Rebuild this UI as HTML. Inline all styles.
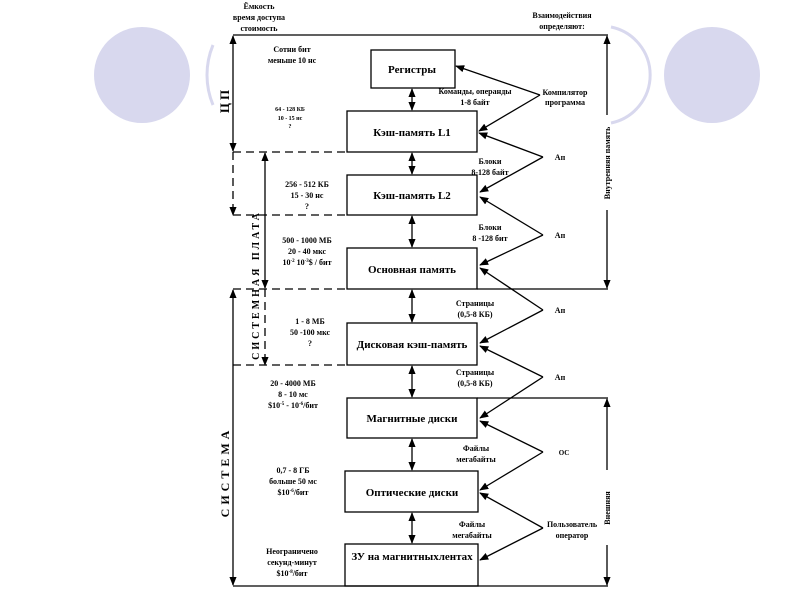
<!DOCTYPE html>
<html><head><meta charset="utf-8"><style>
body{margin:0;background:#fff}
svg{display:block}
text{font-family:"Liberation Serif","Noto Serif CJK SC",serif;font-weight:bold;fill:#000}
</style></head><body>
<svg width="800" height="600" viewBox="0 0 800 600" xmlns="http://www.w3.org/2000/svg">
<defs>
<marker id="a" viewBox="0 0 10 10" refX="9" refY="5" markerWidth="7" markerHeight="7" orient="auto-start-reverse"><path d="M0,1 L10,5 L0,9 z" fill="#000"/></marker>
</defs>
<circle cx="142" cy="75" r="48" fill="#d8d8ee"/>
<circle cx="712" cy="75" r="48" fill="#d8d8ee"/>
<path d="M611,27 A49,49 0 0 1 611,123" fill="none" stroke="#d8d8ee" stroke-width="3"/>
<path d="M213,45 A78,78 0 0 0 213,105" fill="none" stroke="#d8d8ee" stroke-width="3"/>

<g stroke="#000" stroke-width="1.3" fill="none">
<line x1="233" y1="35" x2="608" y2="35"/>
<line x1="477" y1="289" x2="608" y2="289"/>
<line x1="477" y1="398" x2="608" y2="398"/>
<line x1="233" y1="586" x2="608" y2="586"/>
<g stroke-dasharray="8,5">
<line x1="233" y1="152" x2="347" y2="152"/>
<line x1="233" y1="215" x2="347" y2="215"/>
<line x1="233" y1="289" x2="347" y2="289"/>
<line x1="233" y1="365" x2="347" y2="365"/>
<line x1="233" y1="152" x2="233" y2="215" marker-end="url(#a)"/>
<line x1="265" y1="289" x2="265" y2="365" marker-end="url(#a)"/>
</g>
<line x1="233" y1="36" x2="233" y2="151" marker-start="url(#a)" marker-end="url(#a)"/>
<line x1="265" y1="153" x2="265" y2="288" marker-start="url(#a)" marker-end="url(#a)"/>
<line x1="233" y1="290" x2="233" y2="585" marker-start="url(#a)" marker-end="url(#a)"/>
<line x1="607" y1="36" x2="607" y2="115" marker-start="url(#a)"/>
<line x1="607" y1="210" x2="607" y2="288" marker-end="url(#a)"/>
<line x1="607" y1="399" x2="607" y2="470" marker-start="url(#a)"/>
<line x1="607" y1="545" x2="607" y2="585" marker-end="url(#a)"/>

<rect x="371" y="50" width="84" height="38"/>
<rect x="347" y="111" width="130" height="41"/>
<rect x="347" y="175" width="130" height="40"/>
<rect x="347" y="248" width="130" height="41"/>
<rect x="347" y="323" width="130" height="42"/>
<rect x="347" y="398" width="130" height="40"/>
<rect x="345" y="471" width="133" height="41"/>
<rect x="345" y="544" width="133" height="42"/>

<g marker-start="url(#a)" marker-end="url(#a)">
<line x1="412" y1="89" x2="412" y2="110"/>
<line x1="412" y1="153" x2="412" y2="174"/>
<line x1="412" y1="216" x2="412" y2="247"/>
<line x1="412" y1="290" x2="412" y2="322"/>
<line x1="412" y1="366" x2="412" y2="397"/>
<line x1="412" y1="439" x2="412" y2="470"/>
<line x1="412" y1="513" x2="412" y2="543"/>
</g>
<g marker-end="url(#a)">
<line x1="540" y1="95" x2="456" y2="66"/>
<line x1="540" y1="95" x2="479" y2="131"/>
<line x1="543" y1="157" x2="479" y2="133"/>
<line x1="543" y1="157" x2="480" y2="192"/>
<line x1="543" y1="235" x2="480" y2="197"/>
<line x1="543" y1="235" x2="480" y2="265"/>
<line x1="543" y1="310" x2="480" y2="268"/>
<line x1="543" y1="310" x2="480" y2="343"/>
<line x1="543" y1="377" x2="480" y2="346"/>
<line x1="543" y1="377" x2="480" y2="418"/>
<line x1="543" y1="452" x2="480" y2="421"/>
<line x1="543" y1="452" x2="480" y2="490"/>
<line x1="543" y1="528" x2="480" y2="493"/>
<line x1="543" y1="528" x2="480" y2="560"/>
</g>
</g>

<g font-size="11" text-anchor="middle">
<text x="412" y="73">Регистры</text>
<text x="412" y="136">Кэш-память L1</text>
<text x="412" y="199">Кэш-память L2</text>
<text x="412" y="273">Основная память</text>
<text x="412" y="348">Дисковая кэш-память</text>
<text x="412" y="422">Магнитные диски</text>
<text x="412" y="496">Оптические диски</text>
<text x="412" y="560">ЗУ на магнитныхлентах</text>
</g>
<g font-size="8" text-anchor="middle">
<text x="259" y="9">Ёмкость</text>
<text x="259" y="20">время доступа</text>
<text x="259" y="31">стоимость</text>
<text x="562" y="18">Взаимодействия</text>
<text x="562" y="29">определяют:</text>
<text x="292" y="52">Сотни бит</text>
<text x="292" y="63">меньше 10 нс</text>
<text x="290" y="111" font-size="6">64 - 128 КБ</text>
<text x="290" y="120" font-size="6">10 - 15 нс</text>
<text x="290" y="128" font-size="6">?</text>
<text x="307" y="187">256 - 512 КБ</text>
<text x="307" y="198">15 - 30 нс</text>
<text x="307" y="209">?</text>
<text x="307" y="243">500 - 1000 МБ</text>
<text x="307" y="254">20 - 40 мкс</text>
<text x="307" y="265">10<tspan font-size="5" dy="-3">-2</tspan><tspan dy="3"> 10</tspan><tspan font-size="5" dy="-3">-3</tspan><tspan dy="3">$ / бит</tspan></text>
<text x="310" y="324">1 - 8 МБ</text>
<text x="310" y="335">50 -100 мкс</text>
<text x="310" y="346">?</text>
<text x="293" y="386">20 - 4000 МБ</text>
<text x="293" y="397">8 - 10 мс</text>
<text x="293" y="408">$10<tspan font-size="5" dy="-3">-5</tspan><tspan dy="3"> - 10</tspan><tspan font-size="5" dy="-3">-6</tspan><tspan dy="3">/бит</tspan></text>
<text x="293" y="473">0,7 - 8 ГБ</text>
<text x="293" y="484">больше 50 мс</text>
<text x="293" y="495">$10<tspan font-size="5" dy="-3">-6</tspan><tspan dy="3">/бит</tspan></text>
<text x="292" y="554">Неограничено</text>
<text x="292" y="565">секунд-минут</text>
<text x="292" y="576">$10<tspan font-size="5" dy="-3">-8</tspan><tspan dy="3">/бит</tspan></text>
<text x="475" y="94">Команды, операнды</text>
<text x="475" y="105">1-8 байт</text>
<text x="565" y="95">Компилятор</text>
<text x="565" y="105">программа</text>
<text x="490" y="164">Блоки</text>
<text x="490" y="175">8-128 байт</text>
<text x="560" y="160">Ап</text>
<text x="490" y="230">Блоки</text>
<text x="490" y="241">8 -128 бит</text>
<text x="560" y="238">Ап</text>
<text x="475" y="306">Страницы</text>
<text x="475" y="317">(0,5-8 КБ)</text>
<text x="560" y="313">Ап</text>
<text x="475" y="375">Страницы</text>
<text x="475" y="386">(0,5-8 КБ)</text>
<text x="560" y="380">Ап</text>
<text x="476" y="451">Файлы</text>
<text x="476" y="462">мегабайты</text>
<text x="564" y="455" font-size="7">ОС</text>
<text x="472" y="527">Файлы</text>
<text x="472" y="538">мегабайты</text>
<text x="572" y="527">Пользователь</text>
<text x="572" y="538">оператор</text>
</g>
<text font-size="8" text-anchor="middle" transform="translate(610,163) rotate(-90)">Внутренняя память</text>
<text font-size="8" text-anchor="middle" transform="translate(610,508) rotate(-90)">Внешняя</text>
<text font-size="13" text-anchor="middle" letter-spacing="3" transform="translate(229,100) rotate(-90)">ЦП</text>
<text font-size="10" text-anchor="middle" letter-spacing="3" transform="translate(259,285) rotate(-90)">СИСТЕМНАЯ  ПЛАТА</text>
<text font-size="12" text-anchor="middle" letter-spacing="4" transform="translate(229,472) rotate(-90)">СИСТЕМА</text>
</svg>
</body></html>
